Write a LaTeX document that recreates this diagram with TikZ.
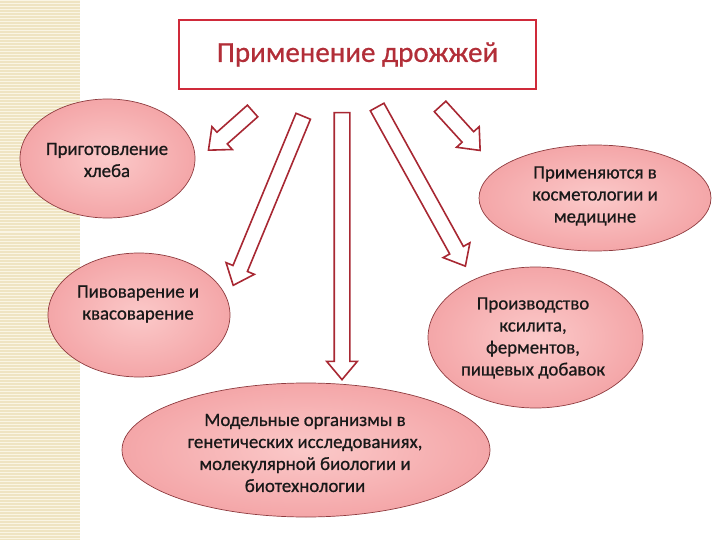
\documentclass[tikz,border=0pt]{standalone}
\usepackage{fontspec}
\setmainfont{Carlito}
\newfontfamily\lblfont{Carlito}[FakeBold=0.7]
\usetikzlibrary{shapes.geometric,shapes.arrows}
\definecolor{strip}{HTML}{EFE4C2}
\definecolor{stripline}{HTML}{FAF5E4}
\definecolor{boxred}{HTML}{CF2A3A}
\definecolor{titlered}{HTML}{B22E38}
\definecolor{arrred}{HTML}{A82833}
\definecolor{pinkin}{HTML}{FBC9C9}
\definecolor{pinkout}{HTML}{F4A6A8}
\definecolor{rim}{HTML}{8E3B3F}
\tikzset{
  yeast/.style={ellipse, draw=rim, line width=0.7pt, inner color=pinkin, outer color=pinkout, inner sep=0pt},
  txt/.style={align=center, font=\lblfont\fontsize{18.8}{22}\selectfont, text=black!90},
  blockarrow/.style={single arrow, draw=arrred, fill=white, line width=1.6pt, inner sep=0pt, inner ysep=7pt,
    single arrow head extend=7.5pt, single arrow tip angle=80},
}
\begin{document}
\begin{tikzpicture}[x=1pt,y=-1pt]
  \useasboundingbox (0,0) rectangle (720,540);
  % striped margin
  \fill[strip] (0,0) rectangle (80,540);
  \foreach \y in {1,4,...,540}{
    \draw[stripline, line width=1pt] (0,\y)--(80,\y);}
  % title
  \node[draw=boxred, line width=2pt, minimum width=357pt, minimum height=69pt, inner sep=0pt,
    text=titlered, font=\lblfont\fontsize{29}{34}\selectfont] (title) at (357.5,54.5) {Применение дрожжей};
  % arrows
  \node[blockarrow, minimum height=59pt, rotate=221.6] (toBread) at (234,127.5) {};
  \node[blockarrow, minimum height=183pt, rotate=247.5] (toBeer) at (270,196.5) {};
  \node[blockarrow, minimum height=267pt, rotate=270] (toModel) at (342,241.5) {};
  \node[blockarrow, minimum height=182pt, rotate=-61] (toXylit) at (419,182.5) {};
  \node[blockarrow, minimum height=59.5pt, rotate=-47.7] (toCosm) at (457,125) {};
  % ellipses
  \node[yeast, minimum width=175pt, minimum height=119pt] (bread) at (107.5,158.5) {};
  \node[yeast, minimum width=232pt, minimum height=106pt] (cosm) at (595,198) {};
  \node[yeast, minimum width=182pt, minimum height=124pt] (beer) at (139,315) {};
  \node[yeast, minimum width=215pt, minimum height=141pt] (xylit) at (535.5,337.5) {};
  \node[yeast, minimum width=368pt, minimum height=134pt] (model) at (306,450) {};
  \node[txt] (bread-t) at (107,160) {Приготовление\\хлеба};
  \node[txt] (cosm-t) at (595,196) {Применяются в\\косметологии и\\медицине};
  \node[txt] (beer-t) at (138,304) {Пивоварение и\\квасоварение};
  \node[txt] (xylit-t) at (533,338) {Производство\\ксилита,\\ферментов,\\пищевых добавок};
  \node[txt] (model-t) at (305,453) {Модельные организмы в\\генетических исследованиях,\\молекулярной биологии и\\биотехнологии};
\end{tikzpicture}
\end{document}
